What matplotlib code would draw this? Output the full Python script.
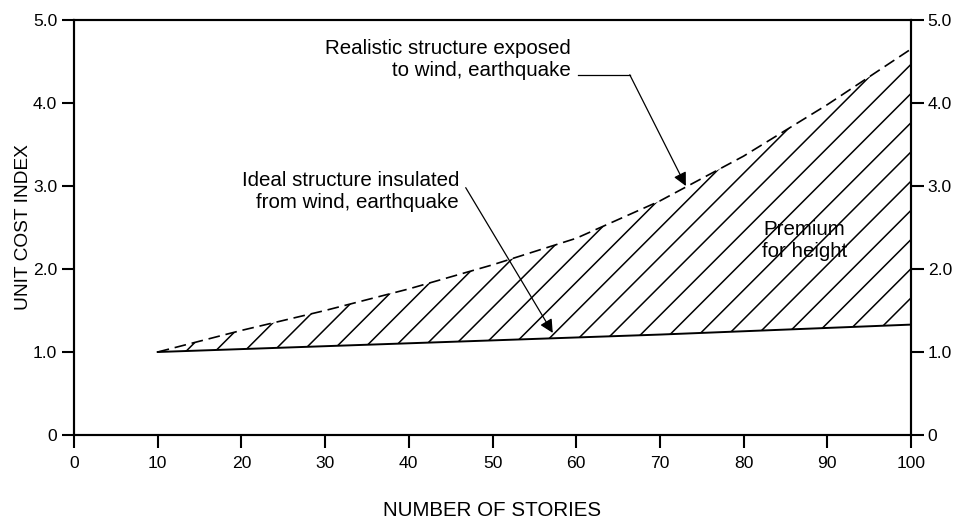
#!/usr/bin/env python3
"""Unit cost index vs number of stories, with hatched height premium."""

import numpy as np
import matplotlib
matplotlib.use("Agg")
import matplotlib.pyplot as plt

stories = [10, 20, 30, 40, 50, 60, 70, 80, 90, 100]
realistic = [1.00, 1.26, 1.50, 1.76, 2.05, 2.37, 2.82, 3.36, 3.98, 4.65]
ideal = [1.00, 1.035, 1.07, 1.105, 1.14, 1.175, 1.21, 1.25, 1.29, 1.33]

x_ticks = list(range(0, 101, 10))
y_ticks = [0, 1, 2, 3, 4, 5]
y_labels = ["0", "1.0", "2.0", "3.0", "4.0", "5.0"]

plt.rcParams["font.family"] = ["Liberation Sans", "DejaVu Sans"]
FS_TICK = 12.6
FS_TEXT = 14.8

fig = plt.figure(figsize=(9.56, 5.21), dpi=100)
ax = fig.add_axes([74 / 956, 86 / 521, 837 / 956, 415 / 521])
ax.set_xlim(0, 100)
ax.set_ylim(0, 5)

ax.plot(stories, realistic, color="black", lw=1.2, dashes=(7, 3.5))
ax.plot(stories, ideal, color="black", lw=1.4)

# hatched region between the curves, lines at 45 deg on screen
poly = ax.fill_between(stories, ideal, realistic, facecolor="none", edgecolor="none")
clip = poly.get_paths()[0]
px_x = ax.transData.transform((1, 0))[0] - ax.transData.transform((0, 0))[0]
px_y = ax.transData.transform((0, 1))[1] - ax.transData.transform((0, 0))[1]
slope = px_x / px_y
step = 29.2 / px_x
for x0 in np.arange(13.3 - 40 * step, 100 + step, step):
    xs = np.array([x0, x0 + 100])
    ln, = ax.plot(xs, 1.0 + (xs - x0) * slope, color="black", lw=1.1)
    ln.set_clip_path(clip, ax.transData)

for side in ["left", "right", "top", "bottom"]:
    ax.spines[side].set_linewidth(1.5)
ax.set_xticks(x_ticks)
ax.set_yticks(y_ticks)
ax.set_yticklabels(y_labels)
ax.tick_params(direction="out", length=9, width=1.5, labelsize=FS_TICK, pad=3)
ax.tick_params(axis="x", pad=6)

ax2 = ax.twinx()
ax2.set_ylim(0, 5)
ax2.set_yticks(y_ticks)
ax2.set_yticklabels(y_labels)
ax2.tick_params(direction="out", length=9, width=1.5, labelsize=FS_TICK, pad=3)
for side in ["left", "right", "top", "bottom"]:
    ax2.spines[side].set_linewidth(1.5)

ax.set_ylabel("UNIT COST INDEX", fontsize=13.8, labelpad=1)
ax.set_xlabel("NUMBER OF STORIES", fontsize=FS_TEXT, labelpad=22)

ax.text(59.3, 4.52, "Realistic structure exposed\nto wind, earthquake",
        ha="right", va="center", fontsize=FS_TEXT, linespacing=1.2)
ax.plot([60.2, 66.4], [4.34, 4.34], color="black", lw=0.9)
ax.annotate("", xy=(73.1, 3.0), xytext=(66.4, 4.34),
            arrowprops=dict(arrowstyle="-|>", color="black", lw=0.9,
                            mutation_scale=20, shrinkA=0, shrinkB=0))

ax.text(46.0, 2.93, "Ideal structure insulated\nfrom wind, earthquake",
        ha="right", va="center", fontsize=FS_TEXT, linespacing=1.2)
ax.annotate("", xy=(57.2, 1.23), xytext=(46.8, 2.98),
            arrowprops=dict(arrowstyle="-|>", color="black", lw=0.9,
                            mutation_scale=20, shrinkA=0, shrinkB=0))

ax.text(87.3, 2.34, "Premium\nfor height", ha="center", va="center",
        fontsize=FS_TEXT, linespacing=1.2)

fig.savefig("out.png", dpi=100)
